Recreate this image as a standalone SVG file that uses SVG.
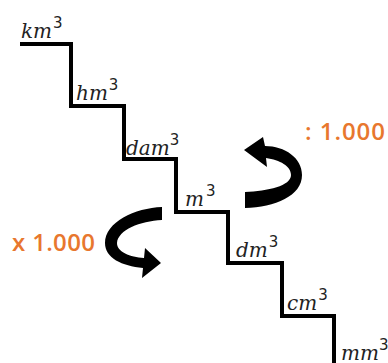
<svg xmlns="http://www.w3.org/2000/svg" width="388" height="363" viewBox="0 0 388 363">
<style>
.unit{font-family:"DejaVu Serif","Liberation Serif",serif;font-style:italic;font-size:20px;fill:#222}
.sup{font-family:"DejaVu Sans","Liberation Sans",sans-serif;font-style:normal;font-size:15px}
.factor{font-family:"Open Sans","Liberation Sans",sans-serif;font-weight:600;font-size:24px;fill:#E8772E}
.stair{fill:none;stroke:#000;stroke-width:4;stroke-linejoin:miter}
.arrow{fill:#000}
</style>
<rect width="388" height="363" fill="#fff"/>
<g id="connectors">
<path class="stair" d="M20,44 H71 V106 H124 V159 H176 V212 H228 V263 H282 V316 H334 V365"/>
</g>
<g id="arrow-divide">
<path class="arrow" d="M244,150 L263,137 L265,146 C285,146 302,158 302,175 C302,196 275,207 245,208 L245,192 C268,191 291,186 291,175 C291,166 280,160 266,158 L267,167 Z"/>
</g>
<g id="arrow-multiply">
<path class="arrow" d="M162,207 L162,220 C140,221 118,230 117,243 C117,252 130,257 144,258 L145,248 L161,263 L142,278 L143,268 C122,266 105,258 105,243 C105,222 135,208 162,207 Z"/>
</g>
<g id="km3"><text class="unit" x="21" y="38">km<tspan class="sup" dy="-10" dx="1">3</tspan></text></g>
<g id="hm3"><text class="unit" x="76" y="100">hm<tspan class="sup" dy="-10" dx="1">3</tspan></text></g>
<g id="dam3"><text class="unit" x="126" y="155">dam<tspan class="sup" dy="-10">3</tspan></text></g>
<g id="m3"><text class="unit" x="185" y="206">m<tspan class="sup" dy="-10" dx="2">3</tspan></text></g>
<g id="dm3"><text class="unit" x="236" y="257">dm<tspan class="sup" dy="-10" dx="1">3</tspan></text></g>
<g id="cm3"><text class="unit" x="287" y="310">cm<tspan class="sup" dy="-10" dx="1">3</tspan></text></g>
<g id="mm3"><text class="unit" x="341" y="360">mm<tspan class="sup" dy="-10">3</tspan></text></g>
<g id="divide"><text class="factor" x="305" y="140" textLength="80" lengthAdjust="spacing">: 1.000</text></g>
<g id="multiply"><text class="factor" x="12" y="251" textLength="83" lengthAdjust="spacing">x 1.000</text></g>
</svg>
